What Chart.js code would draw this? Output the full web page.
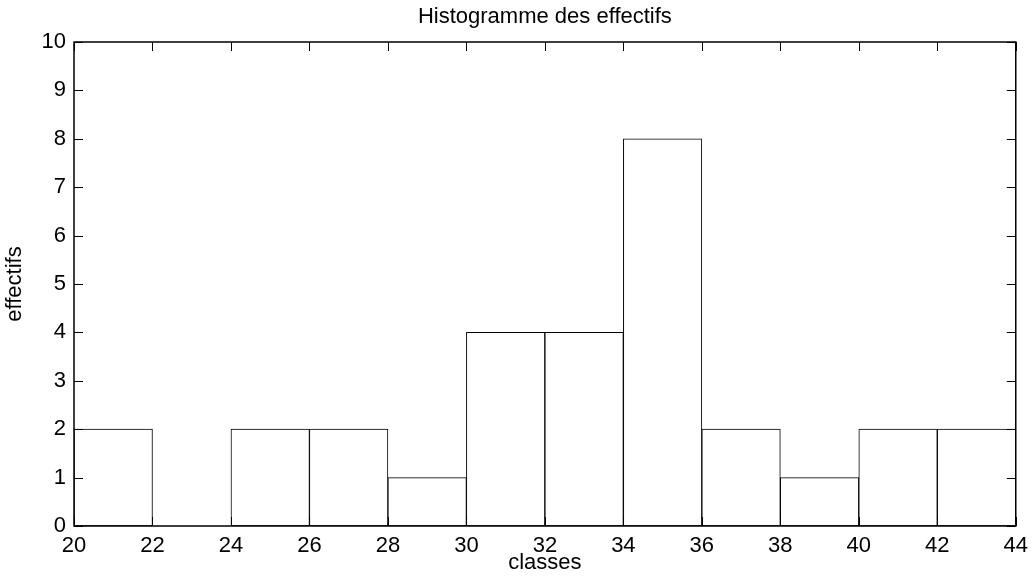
<!DOCTYPE html>
<html>
<head>
<meta charset="utf-8">
<script src="https://cdn.jsdelivr.net/npm/chart.js@4"></script>
<style>
html,body{margin:0;padding:0;background:#fff;}
#wrap{width:1035px;height:583px;}
</style>
</head>
<body>
<div id="wrap"><canvas id="c" width="1035" height="583"></canvas></div>
<script>
const classCenters = [21, 23, 25, 27, 29, 31, 33, 35, 37, 39, 41, 43];
const counts = [2, 0, 2, 2, 1, 4, 4, 8, 2, 1, 2, 2];
const xTicks = [20, 22, 24, 26, 28, 30, 32, 34, 36, 38, 40, 42, 44];
const yTicks = [0, 1, 2, 3, 4, 5, 6, 7, 8, 9, 10];
const titleText = 'Histogramme des effectifs';
const xLabel = 'classes';
const yLabel = 'effectifs';

const FONT = '"Liberation Sans", Arial, Helvetica, sans-serif';
const FS = 22;

const boxPlugin = {
  id: 'boxTicks',
  afterDraw(chart) {
    const {ctx, chartArea: a, scales} = chart;
    const x = scales.x, y = scales.y;
    const L = 9;
    ctx.save();
    // title centred over the plot area
    ctx.fillStyle = '#000';
    ctx.font = FS + 'px ' + FONT;
    ctx.textAlign = 'center';
    ctx.textBaseline = 'middle';
    ctx.fillText(titleText, (a.left + a.right) / 2, 17);
    // box + inward ticks
    ctx.strokeStyle = '#000';
    ctx.lineWidth = 1.5;
    ctx.strokeRect(a.left, a.top, a.right - a.left, a.bottom - a.top);
    ctx.lineWidth = 1;
    ctx.beginPath();
    xTicks.forEach(v => {
      const px = Math.round(x.getPixelForValue(v)) + 0.5;
      ctx.moveTo(px, a.bottom); ctx.lineTo(px, a.bottom - L);
      ctx.moveTo(px, a.top); ctx.lineTo(px, a.top + L);
    });
    yTicks.forEach(v => {
      const py = Math.round(y.getPixelForValue(v)) + 0.5;
      ctx.moveTo(a.left, py); ctx.lineTo(a.left + L, py);
      ctx.moveTo(a.right, py); ctx.lineTo(a.right - L, py);
    });
    ctx.stroke();
    ctx.restore();
  }
};

new Chart(document.getElementById('c'), {
  type: 'bar',
  data: {
    datasets: [{
      data: classCenters.map((c, i) => ({x: c, y: counts[i]})),
      backgroundColor: '#ffffff',
      borderColor: '#000000',
      borderWidth: 1,
      borderSkipped: false,
      barPercentage: 1,
      categoryPercentage: 1
    }]
  },
  options: {
    responsive: false,
    animation: false,
    devicePixelRatio: 1,
    layout: {padding: {left: 0, right: 18, top: 42, bottom: 0}},
    plugins: {
      legend: {display: false},
      tooltip: {enabled: false},
      title: {display: false}
    },
    scales: {
      x: {
        type: 'linear',
        min: 20, max: 44,
        offset: false,
        afterBuildTicks(s) { s.ticks = xTicks.map(v => ({value: v})); },
        afterFit(s) { s.height = 57; },
        grid: {display: false, drawTicks: false},
        border: {display: false},
        ticks: {color: '#000', font: {family: FONT, size: FS}, padding: 7, maxRotation: 0, autoSkip: false},
        title: {display: true, text: xLabel, color: '#000', font: {family: FONT, size: FS}, padding: {top: 0, bottom: 7}}
      },
      y: {
        type: 'linear',
        min: 0, max: 10,
        afterBuildTicks(s) { s.ticks = yTicks.map(v => ({value: v})); },
        afterFit(s) { s.width = 74; },
        grid: {display: false, drawTicks: false},
        border: {display: false},
        ticks: {color: '#000', font: {family: FONT, size: FS}, padding: 8},
        title: {display: true, text: yLabel, color: '#000', font: {family: FONT, size: FS}, padding: {top: 2, bottom: 0}}
      }
    }
  },
  plugins: [boxPlugin]
});
</script>
</body>
</html>
